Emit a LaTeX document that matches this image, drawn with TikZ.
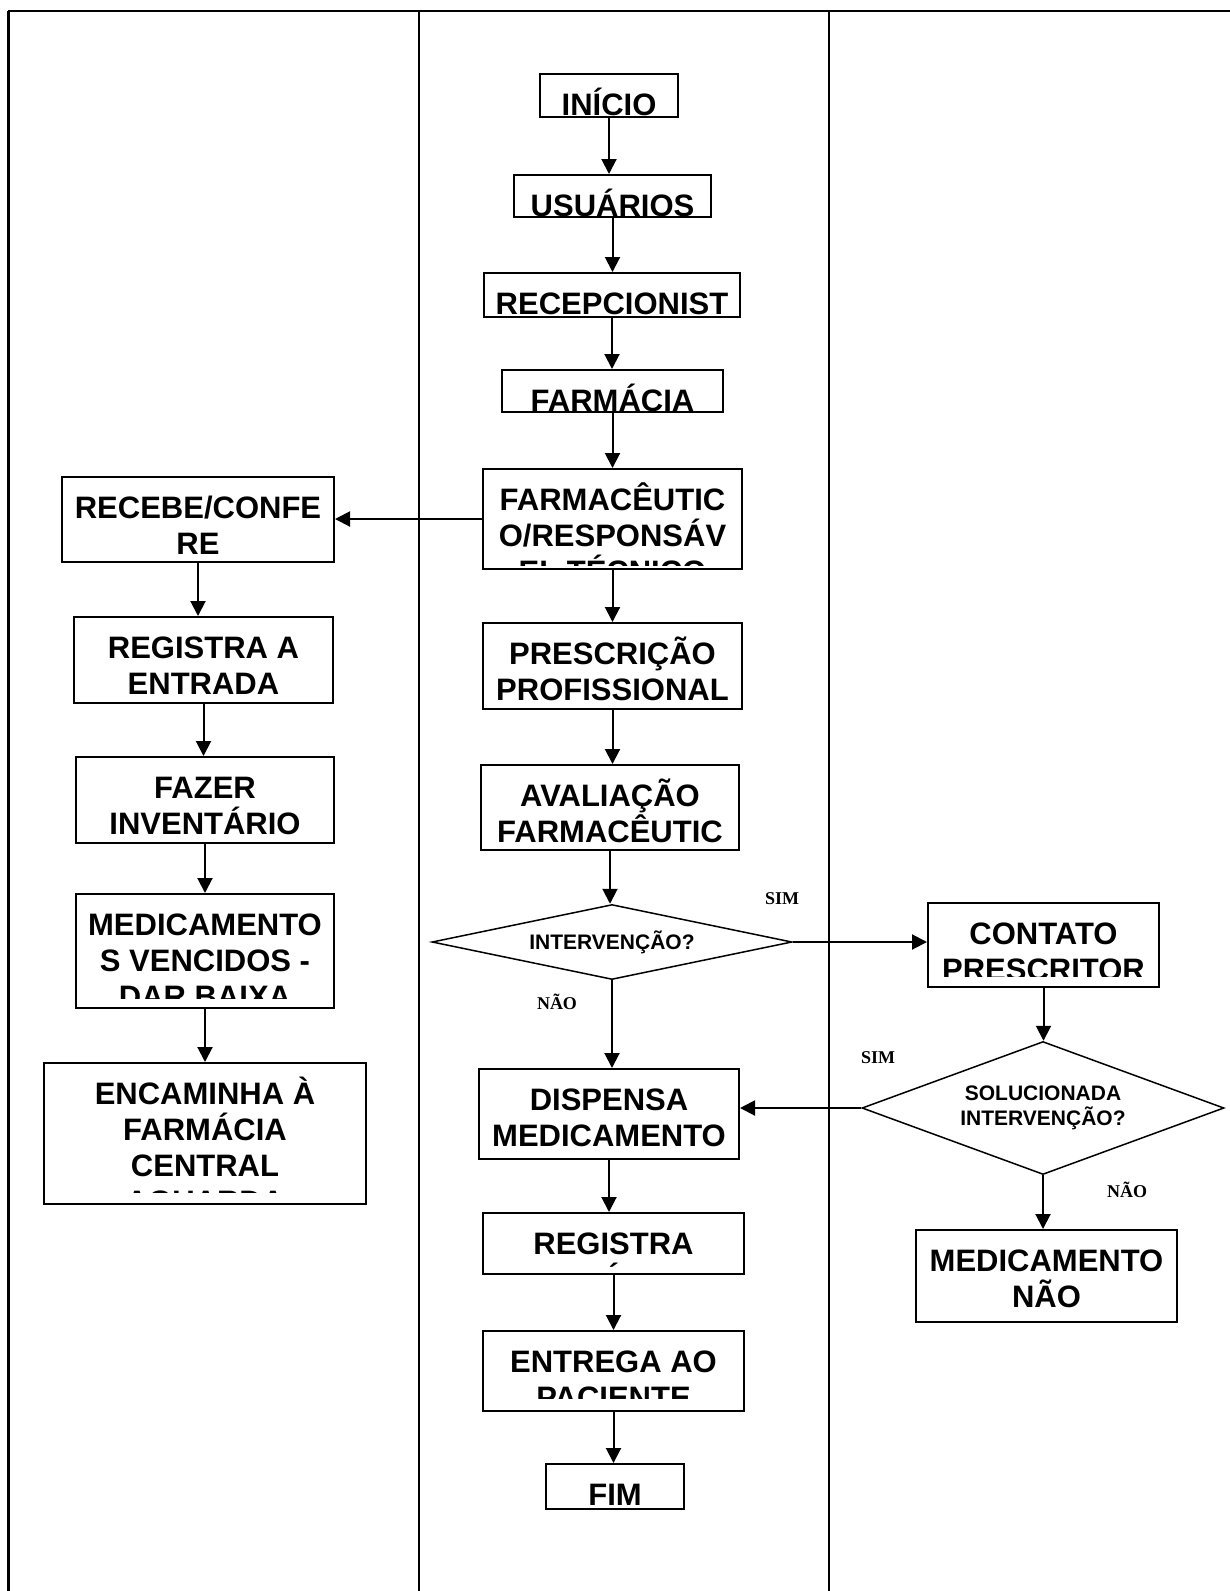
\documentclass[tikz,border=0pt]{standalone}
\usepackage{fontspec}
\setmainfont{Liberation Sans}
\newfontfamily\serifb{Liberation Serif}
\usetikzlibrary{arrows.meta}
\usetikzlibrary{shapes.geometric}
\usetikzlibrary{calc}

\tikzset{
  seta/.style={line width=1pt, -{Triangle[length=7.5pt,width=7.5pt]}},
  caixa/.style={draw, line width=1pt, inner sep=0pt, anchor=north west},
  texto/.style={anchor=north, inner sep=0pt, minimum width=0pt, minimum height=0pt, align=center, font=\fontsize{15.5}{18}\selectfont\bfseries},
  losango/.style={draw, diamond, line width=0.75pt, inner sep=0pt, align=center, font=\fontsize{10.5}{12.8}\selectfont\bfseries},
  rotulo/.style={anchor=base, inner sep=0pt, font=\fontsize{9}{10}\selectfont\serifb\bfseries},
}

% [clip] name, corner, width, height, text
\newcommand{\etapa}[6][0.5pt]{%
  \node[caixa, minimum width=#4, minimum height=#5,
    path picture={
      \clip (path picture bounding box.north west) rectangle ([yshift=#1]path picture bounding box.south east);
      \node[texto] at ([yshift=-5pt]path picture bounding box.north) {\rule{0pt}{15pt}#6};
    }] (#2) at #3 {};%
}

\begin{document}
\begin{tikzpicture}[x=0.5pt,y=-0.5pt]

        \useasboundingbox (0,0) rectangle (1230,1591);

        % Lanes
        \draw[line width=1pt] (8,11) -- (1230,11);
        \draw[line width=1.5pt] (8,11) -- (8,1591);
        \draw[line width=0.75pt] (419,11) -- (419,1591);
        \draw[line width=0.75pt] (829,11) -- (829,1591);

        % Central column
        \etapa{inicio}{(539,73)}{69pt}{21.5pt}{INÍCIO}
        \etapa{usuarios}{(513,174)}{98.5pt}{21pt}{USUÁRIOS}
        \etapa{recep}{(483,272)}{128pt}{22pt}{RECEPCIONIST\\A}
        \etapa{farmacia}{(501,369)}{110.5pt}{21pt}{FARMÁCIA}
        \etapa[2pt]{farmaceutico}{(482,468)}{129.5pt}{50pt}{FARMACÊUTIC\\O/RESPONSÁV\\EL TÉCNICO}
        \etapa{prescricao}{(482,622)}{129.5pt}{43pt}{PRESCRIÇÃO\\PROFISSIONAL}
        \etapa{avaliacao}{(480,764)}{129pt}{42.5pt}{AVALIAÇÃO\\FARMACÊUTIC\\A}
        \node[losango, minimum width=180pt, minimum height=37.5pt, aspect=4.8] (interv) at (612,942) {INTERVENÇÃO?};
        \etapa{dispensa}{(478,1068)}{130pt}{45pt}{DISPENSA\\MEDICAMENTO}
        \etapa[3.5pt]{registra}{(482,1212)}{130.5pt}{30.5pt}{REGISTRA\\SAÍDA}
        \etapa[6.5pt]{entrega}{(482,1330)}{130.5pt}{40pt}{ENTREGA AO\\PACIENTE}
        \etapa{fim}{(545,1463)}{69pt}{22.5pt}{FIM}

        % Left column
        \etapa{recebe}{(61,476)}{136pt}{42.5pt}{RECEBE/CONFE\\RE}
        \etapa{entrada}{(73,616)}{129.5pt}{43pt}{REGISTRA A\\ENTRADA}
        \etapa{inventario}{(75,756)}{129pt}{43pt}{FAZER\\INVENTÁRIO}
        \etapa[5pt]{vencidos}{(75,893)}{129pt}{57pt}{MEDICAMENTO\\S VENCIDOS -\\DAR BAIXA}
        \etapa[6pt]{encaminha}{(43,1062)}{161pt}{70.5pt}{ENCAMINHA À\\FARMÁCIA\\CENTRAL\\AGUARDA}

        % Right column
        \etapa[5.5pt]{contato}{(927,902)}{115.5pt}{42pt}{CONTATO\\PRESCRITOR}
        \node[losango, minimum width=181pt, minimum height=66.5pt, aspect=2.72] (solucao) at (1043,1108) {SOLUCIONADA\\INTERVENÇÃO?};
        \etapa{mednao}{(915,1229)}{130.5pt}{46pt}{MEDICAMENTO\\NÃO}

        % Arrows
        \foreach \a/\b in {inicio/usuarios, usuarios/recep, recep/farmacia, farmacia/farmaceutico,
                           farmaceutico/prescricao, prescricao/avaliacao, avaliacao/interv,
                           dispensa/registra, registra/entrega, entrega/fim,
                           recebe/entrada, entrada/inventario, inventario/vencidos, vencidos/encaminha}
        {
          \draw[seta] (\a.south) -- (\a.south |- \b.north);
        }
        \draw[seta] (farmaceutico.west) -- (farmaceutico.west -| recebe.east);
        \draw[seta] (interv.south) -- (interv.south |- dispensa.north);
        \draw[seta] (interv.east) -- (interv.east -| contato.west);
        \draw[seta] (contato.south) -- (contato.south |- solucao.north);
        \draw[seta] (solucao.west) -- (solucao.west -| dispensa.east);
        \draw[seta] (solucao.south) -- (solucao.south |- mednao.north);

        % Labels
        \node[rotulo] (sim1) at (782,904) {SIM};
        \node[rotulo] (nao1) at (557,1009) {NÃO};
        \node[rotulo] (sim2) at (878,1063) {SIM};
        \node[rotulo] (nao2) at (1127,1197) {NÃO};

\end{tikzpicture}
\end{document}
